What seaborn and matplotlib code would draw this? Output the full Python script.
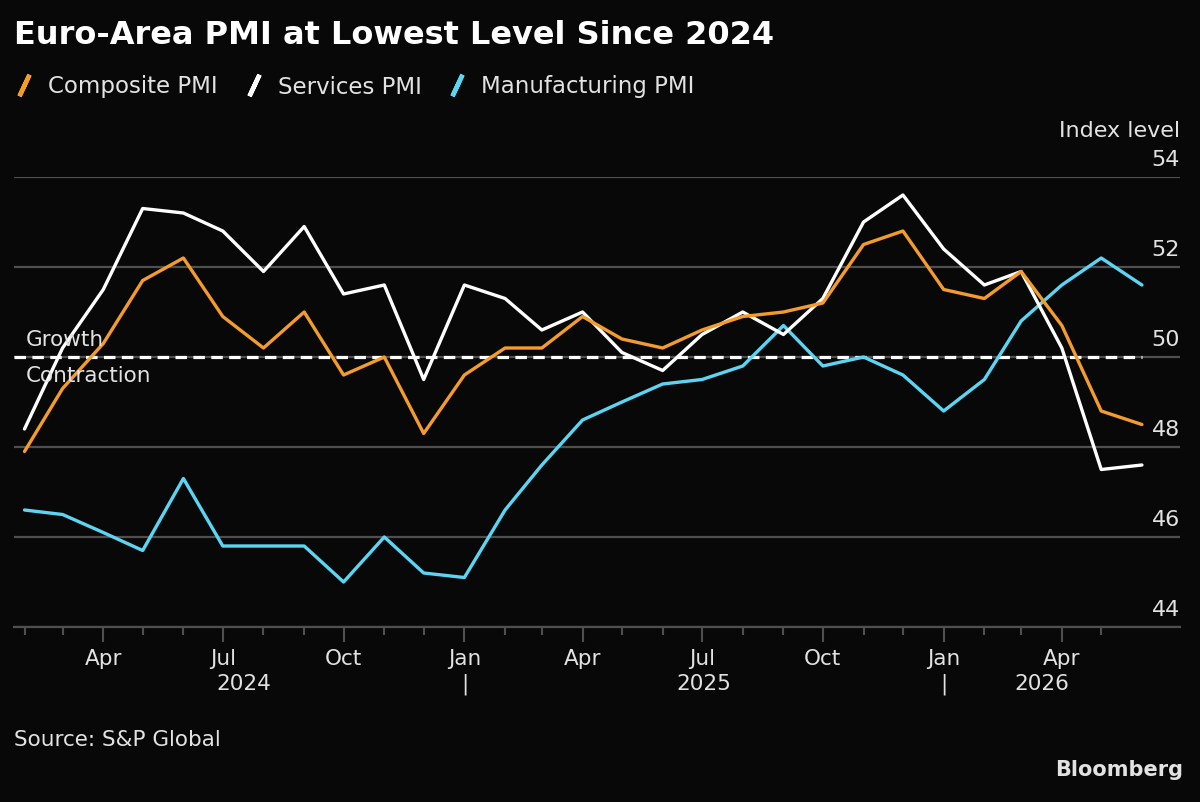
import pandas as pd
import matplotlib.pyplot as plt
import matplotlib.dates as mdates
from matplotlib.lines import Line2D
import seaborn as sns

# monthly readings, plotted at the start of the following month
months = pd.date_range('2024-02-01', '2026-06-01', freq='MS')
composite = [47.9, 49.3, 50.3, 51.7, 52.2, 50.9, 50.2, 51.0, 49.6, 50.0,
             48.3, 49.6, 50.2, 50.2, 50.9, 50.4, 50.2, 50.6, 50.9, 51.0,
             51.2, 52.5, 52.8, 51.5, 51.3, 51.9, 50.7, 48.8, 48.5]
services = [48.4, 50.2, 51.5, 53.3, 53.2, 52.8, 51.9, 52.9, 51.4, 51.6,
            49.5, 51.6, 51.3, 50.6, 51.0, 50.1, 49.7, 50.5, 51.0, 50.5,
            51.3, 53.0, 53.6, 52.4, 51.6, 51.9, 50.2, 47.5, 47.6]
manufacturing = [46.6, 46.5, 46.1, 45.7, 47.3, 45.8, 45.8, 45.8, 45.0, 46.0,
                 45.2, 45.1, 46.6, 47.6, 48.6, 49.0, 49.4, 49.5, 49.8, 50.7,
                 49.8, 50.0, 49.6, 48.8, 49.5, 50.8, 51.6, 52.2, 51.6]

series_names = ['Composite PMI', 'Services PMI', 'Manufacturing PMI']
colors = ['#F39C2B', '#FFFFFF', '#5CD5F3']
y_ticks = [44, 46, 48, 50, 52, 54]
years = ['2024', '2025', '2026']
year_mid = ['2024-07-17', '2025-07-02', '2026-03-17']
year_breaks = ['2025-01-01', '2026-01-01']

df = pd.DataFrame({'date': months, 'Composite PMI': composite,
                   'Services PMI': services, 'Manufacturing PMI': manufacturing})
df = df.melt(id_vars='date', var_name='series', value_name='value')

bg = '#080808'
grid = '#4f4f4f'
txt = '#e2e2e2'

sns.set_style('dark', {'axes.facecolor': bg, 'figure.facecolor': bg})
plt.rcParams['font.family'] = ['DejaVu Sans']

fig = plt.figure(figsize=(12, 8.02), dpi=100)
ax = fig.add_axes([14 / 1200, 175 / 802, 1166 / 1200, 450 / 802])
ax.set_facecolor(bg)

sns.lineplot(data=df, x='date', y='value', hue='series',
             hue_order=series_names[::-1],
             palette=dict(zip(series_names, colors)),
             linewidth=2.4, legend=False, ax=ax)

x_left = pd.Timestamp('2024-01-24')
ax.set_xlim(x_left, pd.Timestamp('2026-06-30'))
ax.set_ylim(44, 54)

# 50 line: growth / contraction threshold
ax.hlines(50, x_left, months[-1], colors='white', linestyles=(0, (3.6, 2)),
          linewidth=2.3, zorder=1.8)
ax.text(0.010, 50.38, 'Growth', transform=ax.get_yaxis_transform(),
        va='center', ha='left', fontsize=15.5, color=txt)
ax.text(0.010, 49.58, 'Contraction', transform=ax.get_yaxis_transform(),
        va='center', ha='left', fontsize=15.5, color=txt)

# y grid + labels sitting above the lines on the right
ax.set_yticks(y_ticks)
ax.yaxis.grid(True, color=grid, linewidth=1.6)
ax.xaxis.grid(False)
ax.tick_params(axis='y', length=0, labelleft=False)
for v in y_ticks:
    ax.text(1.0, v + 0.25, str(v), transform=ax.get_yaxis_transform(),
            ha='right', va='baseline', fontsize=16, color=txt)
ax.text(1.0, 54.9, 'Index level', transform=ax.get_yaxis_transform(),
        ha='right', va='baseline', fontsize=16, color=txt)

for side in ['top', 'left', 'right']:
    ax.spines[side].set_visible(False)
ax.spines['bottom'].set_color(grid)
ax.spines['bottom'].set_linewidth(1.6)

ax.xaxis.set_major_locator(mdates.MonthLocator(bymonth=[1, 4, 7, 10]))
ax.xaxis.set_major_formatter(mdates.DateFormatter('%b'))
ax.set_xticks(months[:-1], minor=True)
ax.tick_params(axis='x', which='major', bottom=True, length=11, width=1.5,
               color=grid, labelsize=15.5, labelcolor=txt, pad=5)
ax.tick_params(axis='x', which='minor', bottom=True, length=6, width=1.5,
               color=grid)
ax.set_xlabel('')
ax.set_ylabel('')

for y, d in zip(years, year_mid):
    ax.text(pd.Timestamp(d), -0.127, y, transform=ax.get_xaxis_transform(),
            ha='center', va='center', fontsize=15.5, color=txt)
for d in year_breaks:
    ax.text(pd.Timestamp(d), -0.127, '|', transform=ax.get_xaxis_transform(),
            ha='center', va='center', fontsize=15.5, color=txt)

# header
fig.text(14 / 1200, 1 - 35 / 802, 'Euro-Area PMI at Lowest Level Since 2024',
         fontsize=23, fontweight='bold', color='white', va='center')

handles = [Line2D([], [], color=c, lw=0, marker=(2, 2, -25), markersize=17,
                  markeredgewidth=3.2) for c in colors]
fig.legend(handles, series_names, loc='center left',
           bbox_to_anchor=(14 / 1200, 1 - 87 / 802), ncol=3, frameon=False,
           fontsize=16.5, labelcolor=txt, handlelength=0.9, handletextpad=0.6,
           columnspacing=1.1, borderaxespad=0, borderpad=0)

# footer
fig.text(14 / 1200, 1 - 740 / 802, 'Source: S&P Global', va='center',
         fontsize=15.5, color=txt)
fig.text(1183 / 1200, 1 - 770 / 802, 'Bloomberg', ha='right', va='center',
         fontsize=15, fontweight='bold', color=txt)

fig.savefig('out.png', dpi=100, facecolor=bg)
